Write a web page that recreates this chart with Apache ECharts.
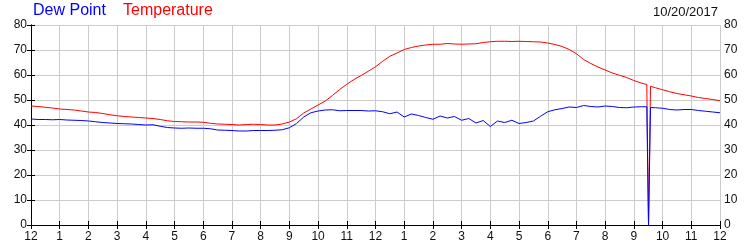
<!DOCTYPE html>
<html>
<head>
<meta charset="utf-8">
<script src="https://cdn.jsdelivr.net/npm/echarts@6/dist/echarts.min.js"></script>
<style>html,body{margin:0;padding:0;background:#fff}#c{width:750px;height:250px}</style>
</head>
<body>
<div id="c"></div>
<script>
var hours = [0,0.25,0.5,0.75,1,1.25,1.5,1.75,2,2.25,2.5,2.75,3,3.25,3.5,3.75,4,4.25,4.5,4.75,
5,5.25,5.5,5.75,6,6.25,6.5,6.75,7,7.25,7.5,7.75,8,8.25,8.5,8.75,9,9.25,9.5,9.75,
10,10.25,10.5,10.75,11,11.25,11.5,11.75,12,12.25,12.5,12.75,13,13.25,13.5,13.75,14,14.25,14.5,14.75,
15,15.25,15.5,15.75,16,16.25,16.5,16.75,17,17.25,17.5,17.75,18,18.25,18.5,18.75,19,19.25,19.5,19.75,
20,20.25,20.5,20.75,21,21.25,21.45,21.51,21.58,21.75,22,22.25,22.5,22.75,23,23.25,23.5,23.75,24];
var temperature = [47.6,47.4,47.1,46.8,46.4,46.2,46.0,45.6,45.2,45.0,44.6,44.1,43.7,43.4,43.2,43.0,42.8,42.6,42.2,41.7,
41.4,41.3,41.2,41.2,41.1,40.7,40.4,40.3,40.2,40.0,40.2,40.3,40.2,40.0,40.0,40.4,41.2,42.5,44.8,46.4,
48.0,49.6,51.8,54.2,56.3,58.2,59.8,61.5,63.3,65.5,67.5,68.8,70.2,71.0,71.6,72.0,72.3,72.3,72.6,72.4,
72.3,72.4,72.5,73.0,73.3,73.5,73.5,73.4,73.5,73.4,73.3,73.2,72.8,72.2,71.4,70.2,68.5,66.2,64.6,63.2,
62.0,60.8,59.9,59.0,57.8,56.8,56.2,0,55.5,54.9,54.1,53.3,52.6,52.1,51.6,51.0,50.6,50.2,49.7];
var dewPoint = [42.4,42.2,42.2,42.1,42.2,42.0,41.9,41.8,41.6,41.3,41.0,40.8,40.6,40.5,40.4,40.2,40.0,40.1,39.5,39.0,
38.8,38.7,38.8,38.7,38.7,38.5,38.0,37.9,37.8,37.6,37.6,37.8,37.8,37.8,37.9,38.1,38.9,40.6,43.2,44.9,
45.6,46.0,46.1,45.7,45.8,45.8,45.8,45.6,45.7,45.3,44.5,45.2,43.2,44.4,43.8,43.0,42.3,43.6,42.8,43.4,
41.9,42.6,40.8,41.8,39.4,41.6,41.0,41.9,40.6,41.0,41.6,43.5,45.3,46.1,46.6,47.2,47.0,47.8,47.4,47.2,
47.6,47.4,47.0,46.9,47.2,47.3,47.3,0,47.0,46.9,46.7,46.2,46.0,46.2,46.2,45.8,45.5,45.2,44.9];
var hourLabels = ['12','1','2','3','4','5','6','7','8','9','10','11','12','1','2','3','4','5','6','7','8','9','10','11','12'];
var dateText = '10/20/2017';

function pairs(v){ return hours.map(function(h,i){ return [h, v[i]]; }); }
var font = 'Liberation Sans, Arial, sans-serif';
var lab = {color:'#111', fontFamily:font, fontSize:12};
var chart = echarts.init(document.getElementById('c'), null, {renderer:'canvas'});
chart.setOption({
  animation:false,
  backgroundColor:'#fff',
  grid:{left:31, right:30, top:25, bottom:25, containLabel:false},
  graphic:[
    {type:'text', left:33, top:3, style:{text:'Dew Point', fill:'#0000ff', font:'16px '+font}},
    {type:'text', left:123, top:3, style:{text:'Temperature', fill:'#ff0000', font:'16px '+font}},
    {type:'text', right:32, top:6, style:{text:dateText, fill:'#111', font:'13px '+font}}
  ],
  xAxis:[
    {type:'value', min:0, max:24, interval:1, position:'bottom',
     axisLine:{lineStyle:{color:'#000', width:1}},
     axisTick:{inside:true, length:4, lineStyle:{color:'#000'}},
     axisLabel:Object.assign({margin:6, formatter:function(v){return hourLabels[Math.round(v)];}}, lab),
     splitLine:{show:true, lineStyle:{color:'#cccccc', width:1}}},
    {type:'value', min:0, max:24, interval:1, position:'top',
     axisLine:{show:true, lineStyle:{color:'#000', width:1}},
     axisTick:{show:true, inside:true, length:4, lineStyle:{color:'#000'}},
     axisLabel:{show:false}, splitLine:{show:false}}
  ],
  yAxis:[
    {type:'value', min:0, max:80, interval:10, position:'left',
     axisLine:{show:true, lineStyle:{color:'#000', width:1}},
     axisTick:{show:true, inside:true, length:4, lineStyle:{color:'#000'}},
     axisLabel:Object.assign({margin:4}, lab),
     splitLine:{show:true, lineStyle:{color:'#cccccc', width:1}}},
    {type:'value', min:0, max:80, interval:10, position:'right',
     axisLine:{show:true, lineStyle:{color:'#000', width:1}},
     axisTick:{show:true, inside:true, length:4, lineStyle:{color:'#000'}},
     axisLabel:Object.assign({margin:4}, lab),
     splitLine:{show:false}}
  ],
  series:[
    {name:'Temperature', type:'line', data:pairs(temperature), showSymbol:false, symbol:'none',
     lineStyle:{color:'#ff0000', width:1}, itemStyle:{color:'#ff0000'}},
    {name:'Dew Point', type:'line', data:pairs(dewPoint), showSymbol:false, symbol:'none',
     lineStyle:{color:'#0000ff', width:1}, itemStyle:{color:'#0000ff'}}
  ]
});
</script>
</body>
</html>
